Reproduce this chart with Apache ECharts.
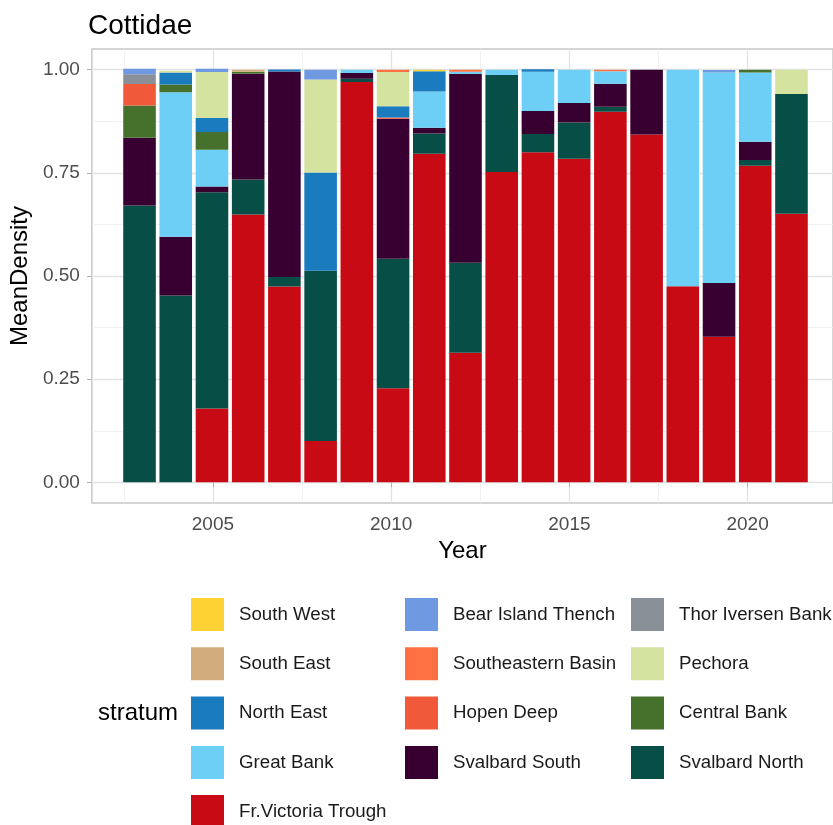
<!DOCTYPE html>
<html>
<head>
<meta charset="utf-8">
<script src="https://cdn.jsdelivr.net/npm/echarts@6/dist/echarts.min.js"></script>
<style>
html,body{margin:0;padding:0;background:#fff;}
#chart{width:833px;height:825px;}
</style>
</head>
<body>
<div id="chart"></div>
<script>
// ---- data (stack order from bottom to top) ----
const years = [2003,2004,2005,2006,2007,2008,2009,2010,2011,2012,2013,2014,2015,2016,2017,2018,2019,2020,2021];
const frVictoriaTrough = [0,0,0.179,0.649,0.4745,0.10,0.970,0.228,0.796,0.314,0.752,0.800,0.784,0.898,0.843,0.475,0.353,0.767,0.651];
const svalbardNorth    = [0.671,0.453,0.524,0.085,0.023,0.413,0.008,0.314,0.049,0.218,0.235,0.044,0.088,0.012,0,0,0,0.014,0.290];
const svalbardSouth    = [0.164,0.142,0.014,0.256,0.498,0,0.014,0.339,0.014,0.458,0,0.056,0.047,0.056,0.157,0,0.130,0.044,0];
const greatBank        = [0,0.350,0.089,0,0,0,0.008,0,0.088,0.005,0.013,0.095,0.081,0.030,0,0.525,0.510,0.168,0];
const centralBank      = [0.078,0.019,0.043,0.005,0,0,0,0,0,0,0,0,0,0,0,0,0,0.007,0];
const hopenDeep        = [0.052,0,0,0,0,0,0,0.003,0,0,0,0,0,0,0,0,0,0,0];
const northEast        = [0,0.029,0.034,0,0.005,0.238,0,0.027,0.049,0,0,0.006,0,0,0,0,0,0,0];
const pechora          = [0,0.004,0.111,0,0,0.225,0,0.083,0,0,0,0,0,0,0,0,0,0,0.059];
const southeasternBasin= [0,0,0,0,0,0,0,0.006,0,0.005,0,0,0,0.004,0,0,0,0,0];
const southEast        = [0,0,0,0.005,0,0,0,0,0,0,0,0,0,0,0,0,0,0,0];
const thorIversenBank  = [0.024,0,0,0,0,0,0,0,0,0,0,0,0,0,0,0,0,0,0];
const bearIslandThench = [0.013,0,0.008,0,0,0.024,0,0,0,0,0,0,0,0,0,0,0.006,0,0];
const southWest        = [0,0,0,0,0,0,0,0,0.004,0,0,0,0,0,0,0,0,0,0];

const xMajorTicks = [2005,2010,2015,2020];
const xMinorTicks = [2002.5,2007.5,2012.5,2017.5];
const yMajorTicks = [0,0.25,0.5,0.75,1];
const yMinorTicks = [0.125,0.375,0.625,0.875];

const strata = [
  ['Fr.Victoria Trough', frVictoriaTrough, '#C70A14'],
  ['Svalbard North', svalbardNorth, '#074F46'],
  ['Svalbard South', svalbardSouth, '#380030'],
  ['Great Bank', greatBank, '#6DCFF6'],
  ['Central Bank', centralBank, '#46712D'],
  ['Hopen Deep', hopenDeep, '#F05A3A'],
  ['North East', northEast, '#1A7BBF'],
  ['Pechora', pechora, '#D5E3A0'],
  ['Southeastern Basin', southeasternBasin, '#FF7042'],
  ['South East', southEast, '#D2AC7C'],
  ['Thor Iversen Bank', thorIversenBank, '#8A9097'],
  ['Bear Island Thench', bearIslandThench, '#6F99E0'],
  ['South West', southWest, '#FFD233']
];

const FONT = '"Liberation Sans", Arial, sans-serif';
const chart = echarts.init(document.getElementById('chart'), null, {renderer:'canvas'});

// panel geometry (ggplot-like continuous x scale with 5% expansion)
const X_MIN = 2001.605, X_MAX = 2022.395;
const PANEL_LEFT = 89, PANEL_W = 753;
const PX_PER_YEAR = PANEL_W / (X_MAX - X_MIN);
const BAR_LEFT = PANEL_LEFT + (years[0] - 0.5 - X_MIN) * PX_PER_YEAR;
const BAR_W = years.length * PX_PER_YEAR;

const series = strata.map(([name, vals, color]) => ({
  name: name,
  type: 'bar',
  stack: 'total',
  xAxisIndex: 2, yAxisIndex: 2,
  barWidth: '90%',
  itemStyle: {color: color},
  emphasis: {disabled: true},
  data: vals
}));

const legendBase = {
  orient: 'vertical',
  itemWidth: 33, itemHeight: 33, itemGap: 16.3,
  icon: 'rect', selectedMode: false,
  textStyle: {fontSize: 18.7, color: '#1A1A1A', fontFamily: FONT, padding: [0,0,0,10]},
  padding: 0
};

chart.setOption({
  animation: false,
  textStyle: {fontFamily: FONT},
  title: {
    text: 'Cottidae', left: 83, top: 7,
    textStyle: {fontSize: 28, fontWeight: 'normal', color: '#000', fontFamily: FONT}
  },
  grid: [{
    left: PANEL_LEFT, top: 49, width: PANEL_W, height: 454,
    show: true, borderColor: '#C8C8C8', borderWidth: 1.5, backgroundColor: 'transparent'
  }, {
    left: BAR_LEFT, top: 49, width: BAR_W, height: 454, show: false
  }],
  xAxis: [{
    gridIndex: 0, type: 'value', min: X_MIN, max: X_MAX,
    name: 'Year', nameLocation: 'middle', nameGap: 36,
    nameTextStyle: {fontSize: 24, color: '#000', fontFamily: FONT},
    axisLine: {show: false},
    axisTick: {show: true, length: 5, customValues: xMajorTicks, lineStyle: {color: '#B3B3B3', width: 1}},
    axisLabel: {customValues: xMajorTicks, fontSize: 19, color: '#4D4D4D', margin: 12, fontFamily: FONT,
      formatter: v => String(v)},
    splitLine: {show: true, lineStyle: {color: '#E3E3E3', width: 1.3}}
  }, {
    gridIndex: 0, type: 'value', min: X_MIN, max: X_MAX, position: 'bottom',
    axisLine: {show: false},
    axisTick: {show: false, customValues: xMinorTicks},
    axisLabel: {show: false, customValues: xMinorTicks},
    splitLine: {show: true, lineStyle: {color: '#EDEDED', width: 0.8}}
  }, {
    gridIndex: 1, type: 'category', data: years, show: false,
    boundaryGap: true
  }],
  yAxis: [{
    gridIndex: 0, type: 'value', min: -0.05, max: 1.05,
    name: 'MeanDensity', nameLocation: 'middle', nameGap: 53, nameRotate: 90,
    nameTextStyle: {fontSize: 24, color: '#000', fontFamily: FONT},
    axisLine: {show: false},
    axisTick: {show: true, length: 5, customValues: yMajorTicks, lineStyle: {color: '#B3B3B3', width: 1}},
    axisLabel: {customValues: yMajorTicks, fontSize: 19, color: '#4D4D4D', margin: 12, fontFamily: FONT,
      formatter: v => v.toFixed(2)},
    splitLine: {show: true, lineStyle: {color: '#E3E3E3', width: 1.3}}
  }, {
    gridIndex: 0, type: 'value', min: -0.05, max: 1.05,
    axisLine: {show: false},
    axisTick: {show: false, customValues: yMinorTicks},
    axisLabel: {show: false, customValues: yMinorTicks},
    splitLine: {show: true, lineStyle: {color: '#EDEDED', width: 0.8}}
  }, {
    gridIndex: 1, type: 'value', min: -0.05, max: 1.05, show: false,
    splitLine: {show: false}
  }],
  legend: [
    Object.assign({}, legendBase, {left: 191, top: 598,
      data: ['South West','South East','North East','Great Bank']}),
    Object.assign({}, legendBase, {left: 191, top: 795,
      data: ['Fr.Victoria Trough']}),
    Object.assign({}, legendBase, {left: 405, top: 598,
      data: ['Bear Island Thench','Southeastern Basin','Hopen Deep','Svalbard South']}),
    Object.assign({}, legendBase, {left: 631, top: 598,
      data: ['Thor Iversen Bank','Pechora','Central Bank','Svalbard North']})
  ],
  graphic: [{
    type: 'text', left: 98, top: 701,
    style: {text: 'stratum', fill: '#000', font: '24px "Liberation Sans", Arial, sans-serif'}
  }],
  series: series
});
</script>
</body>
</html>
